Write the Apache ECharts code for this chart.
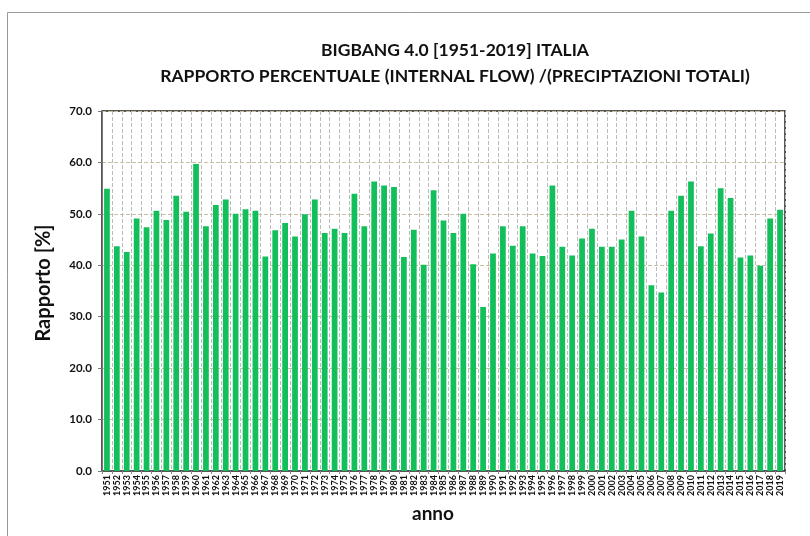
<!DOCTYPE html>
<html><head><meta charset="utf-8">
<script src="https://cdn.jsdelivr.net/npm/echarts@6/dist/echarts.min.js"></script>
<style>html,body{margin:0;padding:0;background:#fff}#c{width:810px;height:536px}</style>
</head><body><div id="c"></div>
<script>
const years = [];
for (let y = 1951; y <= 2019; y++) years.push(String(y));
const ratio = [
  54.9, 43.7, 42.6, 49.1, 47.4, 50.6, 48.8, 53.5, 50.4, 59.7,
  47.6, 51.7, 52.8, 50.0, 50.9, 50.6, 41.7, 46.8, 48.2, 45.6,
  49.9, 52.8, 46.3, 47.1, 46.3, 53.9, 47.6, 56.3, 55.5, 55.2,
  41.6, 46.9, 40.1, 54.6, 48.7, 46.3, 50.0, 40.2, 31.9, 42.3,
  47.6, 43.8, 47.6, 42.3, 41.8, 55.5, 43.6, 41.9, 45.2, 47.1,
  43.6, 43.6, 45.0, 50.6, 45.6, 36.1, 34.7, 50.6, 53.5, 56.3,
  43.7, 46.2, 55.0, 53.1, 41.5, 41.9, 39.9, 49.1, 50.8
];
const titleLines = ['BIGBANG 4.0 [1951-2019] ITALIA', 'RAPPORTO PERCENTUALE (INTERNAL FLOW) /(PRECIPTAZIONI TOTALI)'];
const yName = 'Rapporto [%]';
const xName = 'anno';
const font = 'Lato, "Open Sans", sans-serif';

const chart = echarts.init(document.getElementById('c'), null, {renderer: 'canvas'});
chart.setOption({
  animation: false,
  backgroundColor: '#fff',
  graphic: [
    {type: 'rect', shape: {x: 7.5, y: 12.5, width: 820, height: 540},
     style: {fill: 'none', stroke: '#999', lineWidth: 1}, silent: true},
    {type: 'text', x: 44, y: 283, rotation: Math.PI / 2,
     style: {text: yName, font: 'bold 20px ' + font, fill: '#111', align: 'center', verticalAlign: 'middle'}},
    {type: 'text', x: 433, y: 514,
     style: {text: xName, font: 'bold 19px ' + font, fill: '#111', align: 'center', verticalAlign: 'middle'}}
  ],
  title: {
    text: titleLines.join('\n'),
    left: 450, top: 32, textAlign: 'center',
    textStyle: {fontFamily: font, fontSize: 17.5, fontWeight: 'bold', color: '#111', lineHeight: 26}
  },
  grid: {left: 102, right: 25, top: 111, bottom: 65, show: true, borderColor: '#222', borderWidth: 1.5, backgroundColor: 'transparent'},
  xAxis: {
    type: 'category', data: years, boundaryGap: true,
    axisLine: {lineStyle: {color: '#555'}},
    axisTick: {show: true, interval: 0, alignWithLabel: false, length: 3, lineStyle: {color: '#888'}},
    axisLabel: {rotate: 90, interval: 0, fontFamily: font, fontSize: 9, fontWeight: 'bold', color: '#111', margin: 4},
    splitLine: {show: true, interval: 0, lineStyle: {type: 'dashed', color: '#bbb', width: 1}}
  },
  yAxis: {
    type: 'value', min: 0, max: 70, interval: 10,
    axisLine: {show: true, lineStyle: {color: '#777'}},
    axisTick: {show: true, length: 4, lineStyle: {color: '#777'}},
    axisLabel: {fontFamily: font, fontSize: 11.5, fontWeight: 'bold', color: '#111', margin: 10,
      formatter: v => v.toFixed(1)},
    splitLine: {show: true, lineStyle: {type: 'dashed', color: '#c9c0a0', width: 1}}
  },
  series: [{
    type: 'bar', data: ratio, barCategoryGap: '42%',
    itemStyle: {color: '#12bf5b'}
  }]
});
</script></body></html>
